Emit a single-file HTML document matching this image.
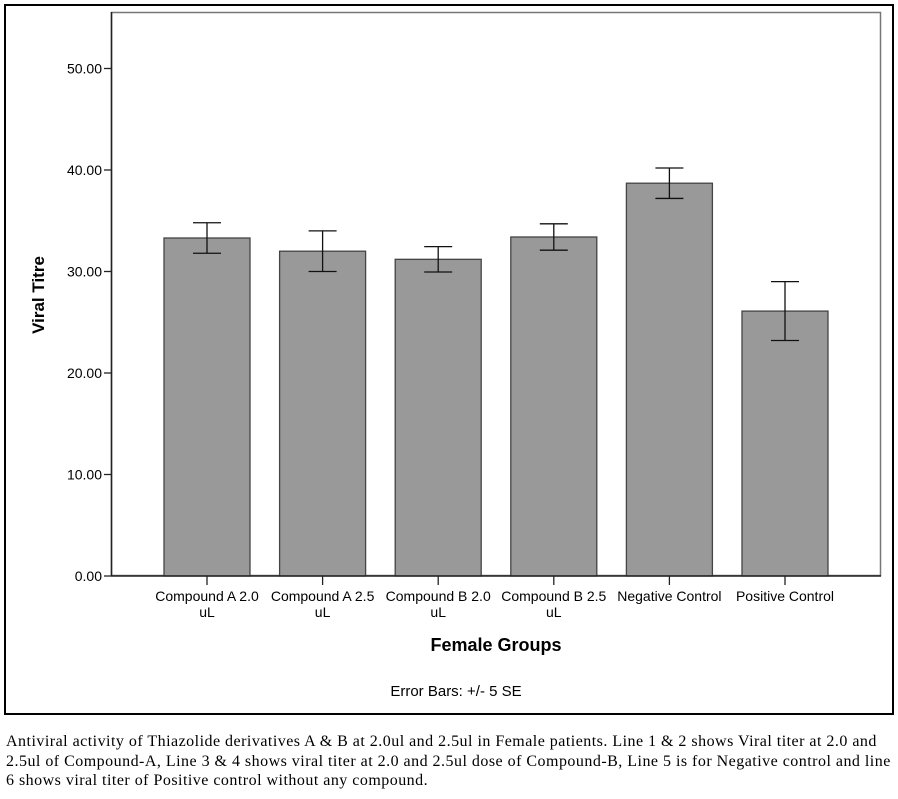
<!DOCTYPE html>
<html><head><meta charset="utf-8"><style>
body{margin:0;background:#fff;width:898px;height:799px;overflow:hidden;font-family:"Liberation Sans",sans-serif}
.cap{position:absolute;left:6px;top:732px;width:892px;font-family:"Liberation Serif",serif;font-size:16px;letter-spacing:0.48px;line-height:19.5px;color:#000;white-space:nowrap}
</style></head><body>
<svg width="898" height="720" style="position:absolute;left:0;top:0" id="svg" font-family="Liberation Sans, sans-serif">
<rect x="5" y="5" width="888" height="709" fill="none" stroke="#000" stroke-width="2"/>
<rect x="111.5" y="12.5" width="769" height="563" fill="none" stroke="#777" stroke-width="1.5"/>
<g id="bars"></g>
<line x1="111.5" y1="12" x2="111.5" y2="576" stroke="#222" stroke-width="1.5"/>
<line x1="111" y1="576" x2="881" y2="576" stroke="#222" stroke-width="1.5"/>
<g id="yt"></g><g id="xt"></g>
<text transform="translate(44,295) rotate(-90)" text-anchor="middle" font-size="17" font-weight="bold">Viral Titre</text>
<text x="496" y="651" text-anchor="middle" font-size="18" font-weight="bold">Female Groups</text>
<text x="456" y="696" text-anchor="middle" font-size="15">Error Bars: +/- 5 SE</text>
</svg>
<div class="cap">Antiviral activity of Thiazolide derivatives A &amp; B at 2.0ul and 2.5ul in Female patients. Line 1 &amp; 2 shows Viral titer at 2.0 and<br>2.5ul of Compound-A, Line 3 &amp; 4 shows viral titer at 2.0 and 2.5ul dose of Compound-B, Line 5 is for Negative control and line<br>6 shows viral titer of Positive control without any compound.</div>
<script>
const categories1=["Compound A 2.0","Compound A 2.5","Compound B 2.0","Compound B 2.5","Negative Control","Positive Control"];
const categories2=["uL","uL","uL","uL","",""];
const values=[33.3,32.0,31.2,33.4,38.7,26.1];
const errors=[1.5,2.0,1.25,1.3,1.5,2.9];
const yTicks=[0,10,20,30,40,50];
const yTickLabels=["0.00","10.00","20.00","30.00","40.00","50.00"];
const NS="http://www.w3.org/2000/svg";
const y=v=>576-v*10.15;
const x=i=>207+i*115.6;
const bw=86;
function mk(t,a,p){const e=document.createElementNS(NS,t);for(const k in a)e.setAttribute(k,a[k]);p.appendChild(e);return e;}
const bars=document.getElementById('bars'),yt=document.getElementById('yt'),xt=document.getElementById('xt');
values.forEach((v,i)=>{
 const r=mk('rect',{x:x(i)-bw/2,y:y(v),width:bw,height:576-y(v),fill:'#999',stroke:'#444','stroke-width':1.3},bars);
 
 
 const g=mk('g',{stroke:'#111','stroke-width':1.3},bars);
 
 
 const hi=y(v+errors[i]),lo=y(v-errors[i]);
 mk('line',{x1:x(i),x2:x(i),y1:hi,y2:lo},g);
 mk('line',{x1:x(i)-14,x2:x(i)+14,y1:hi,y2:hi},g);
 mk('line',{x1:x(i)-14,x2:x(i)+14,y1:lo,y2:lo},g);
 const tk=mk('line',{x1:x(i),x2:x(i),y1:576,y2:585,stroke:'#222','stroke-width':1.3},xt);
 
 
 const t=mk('text',{x:x(i),y:601,'text-anchor':'middle','font-size':14},xt);
 
 
 t.textContent=categories1[i];
 if(categories2[i]){const t2=mk('text',{x:x(i),y:617,'text-anchor':'middle','font-size':14},xt);
 
 
 t2.textContent=categories2[i];}
});
yTicks.forEach((v,i)=>{
 const l=mk('line',{x1:104,x2:111,y1:y(v),y2:y(v),stroke:'#222','stroke-width':1.3},yt);
 
 
 const t=mk('text',{x:102,y:y(v)+5,'text-anchor':'end','font-size':14},yt);
 
 
 t.textContent=yTickLabels[i];
});
</script>
</body></html>
